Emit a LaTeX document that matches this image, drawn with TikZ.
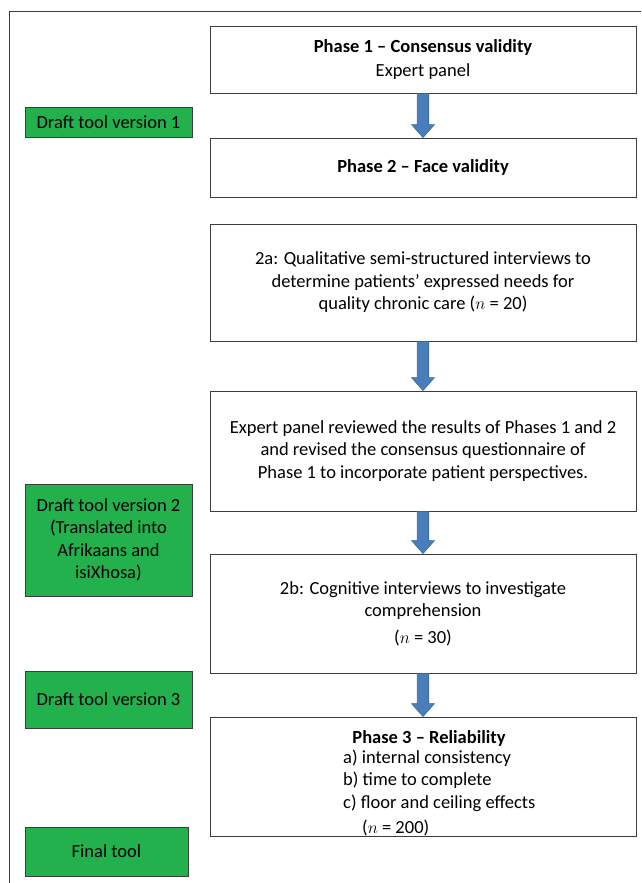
\documentclass[tikz,border=0pt]{standalone}
\usepackage{fontspec}
\setmainfont{Carlito}
\usetikzlibrary{calc}
\definecolor{gbox}{HTML}{22B14C}
\definecolor{ablue}{HTML}{4A7EBB}
\definecolor{aedge}{HTML}{3A669A}
\definecolor{edge}{HTML}{3C3C3C}
\newcommand{\blockarrow}[2]{%
  \filldraw[fill=ablue,draw=aedge,line width=0.6pt]
    ($(#1.south)+(-5.75,0)$) -- ($(#2.north)+(-5.75,-13)$) -- ($(#2.north)+(-11.5,-13)$)
    -- (#2.north) -- ($(#2.north)+(11.5,-13)$) -- ($(#2.north)+(5.75,-13)$)
    -- ($(#1.south)+(5.75,0)$) -- cycle;}
\begin{document}
\begin{tikzpicture}[x=1pt,y=-1pt,
  every node/.style={font=\fontsize{18.5}{22.5}\selectfont},
  wbox/.style={draw=edge,line width=0.9pt,fill=white,rectangle,inner sep=0pt,align=center,minimum width=426pt},
  gnode/.style={draw=edge,line width=0.9pt,fill=gbox,rectangle,inner sep=0pt,align=center,minimum width=167pt}]
\useasboundingbox (0,0) rectangle (641,883);
\coordinate (ftop) at (641,11);
\coordinate (fcorner) at (9,11);
\coordinate (fbot) at (9,883);
\draw[edge,line width=0.9pt] (ftop) -- (fcorner) -- (fbot);

\node[wbox,minimum height=67pt] (p1) at (423,59.5) {\textbf{Phase 1 – Consensus validity}\\[1.5pt]Expert panel};
\node[wbox,minimum height=59pt] (p2) at (423,167.5) {\textbf{Phase 2 – Face validity}};
\node[wbox,minimum height=117pt] (p2a) at (423,282.5) {2a: Qualitative semi-structured interviews to\\determine patients’ expressed needs for\\quality chronic care ($n$ = 20)};
\node[wbox,minimum height=120pt] (pex) at (423,451) {Expert panel reviewed the results of Phases 1 and 2\\and revised the consensus questionnaire of\\Phase 1 to incorporate patient perspectives.};
\node[wbox,minimum height=119pt] (p2b) at (423,613.5) {2b: Cognitive interviews to investigate\\comprehension\\[4pt]($n$ = 30)};
\node[wbox,minimum height=119pt] (p3) at (423,776.5) {};
\node[anchor=base,align=center,inner sep=0pt] (p3t) at (429,743) {\textbf{Phase 3 – Reliability}};
\node[anchor=base west,align=left,inner sep=0pt] (p3l) at (343,808) {a) internal consistency\\b) time to complete\\c) floor and ceiling effects};
\node[anchor=base west,inner sep=0pt] (p3n) at (362,833) {($n$ = 200)};

\blockarrow{p1}{p2}
\blockarrow{p2a}{pex}
\blockarrow{pex}{p2b}
\blockarrow{p2b}{p3}

\node[gnode,minimum height=30pt] (g1) at (108.5,122) {Draft tool version 1};
\node[gnode,minimum height=112pt] (g2) at (108.5,540) {Draft tool version 2\\(Translated into\\Afrikaans and\\isiXhosa)};
\node[gnode,minimum height=57pt] (g3) at (108.5,699.5) {Draft tool version 3};
\node[gnode,minimum height=49pt,minimum width=163pt] (g4) at (106.5,851.5) {Final tool};
\end{tikzpicture}
\end{document}
